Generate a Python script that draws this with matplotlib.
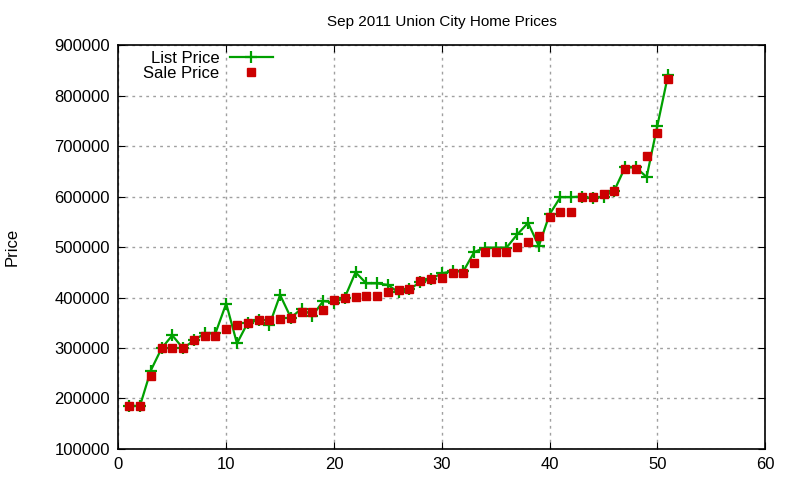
import matplotlib
matplotlib.use("Agg")
import matplotlib.pyplot as plt
from matplotlib.ticker import MultipleLocator

plt.rcParams['font.family'] = ['Liberation Sans', 'DejaVu Sans']

# home index (1..51)
homes = list(range(1, 52))

list_price = [185000, 185000, 255000, 299000, 325000, 299000, 315000, 329000, 329000, 388000,
              309000, 350000, 355000, 345000, 405000, 360000, 378000, 364000, 393000, 390000,
              400000, 450000, 428000, 428000, 425000, 410000, 417000, 430000, 437000, 448000,
              452000, 452000, 490000, 499000, 499000, 499000, 525000, 548000, 502000, 565000,
              599000, 599000, 600000, 597000, 600000, 612000, 658000, 658000, 639000, 741000,
              842000]

sale_price = [185000, 185000, 245000, 299000, 300000, 300000, 315000, 324000, 324000, 338000,
              346000, 350000, 356000, 356000, 358000, 360000, 372000, 371000, 376000, 395000,
              399000, 402000, 403000, 403000, 411000, 414000, 417000, 432000, 437000, 439000,
              449000, 449000, 469000, 491000, 491000, 491000, 501000, 511000, 521000, 560000,
              570000, 570000, 600000, 600000, 606000, 611000, 655000, 655000, 680000, 727000,
              833000]

fig = plt.figure(figsize=(8, 4.8), dpi=100)
ax = fig.add_axes([0.148, 0.065, 0.8085, 0.8405])

ax.plot(homes, list_price, color='#00a000', linewidth=1.6, marker='+',
        markersize=8, markeredgewidth=1.6, label='List Price')
ax.plot(homes, sale_price, color='#cc0000', linestyle='none', marker='s',
        markersize=5.6, label='Sale Price')

ax.set_xlim(0, 60)
ax.set_ylim(100000, 900000)
ax.xaxis.set_major_locator(MultipleLocator(10))
ax.yaxis.set_major_locator(MultipleLocator(100000))
ax.tick_params(direction='in', top=True, right=True, labelsize=12, length=5, pad=6)
ax.grid(True, color='#a0a0a0', linestyle=(0, (2, 3)), linewidth=1)
for s in ax.spines.values():
    s.set_linewidth(1.2)

ax.set_title('Sep 2011 Union City Home Prices', fontsize=11, pad=14)
fig.text(12 / 800, 0.485, 'Price', rotation=90, fontsize=12, ha='center', va='center')

leg = ax.legend(loc='upper left', bbox_to_anchor=(0.018, 1.02), frameon=False,
                markerfirst=False, fontsize=12, handlelength=2.6,
                handletextpad=0.6, labelspacing=0.0, borderpad=0.3)
for t in leg.get_texts():
    t.set_ha('right')
leg._legend_box.align = 'right'

fig.savefig('out.png', dpi=100)
